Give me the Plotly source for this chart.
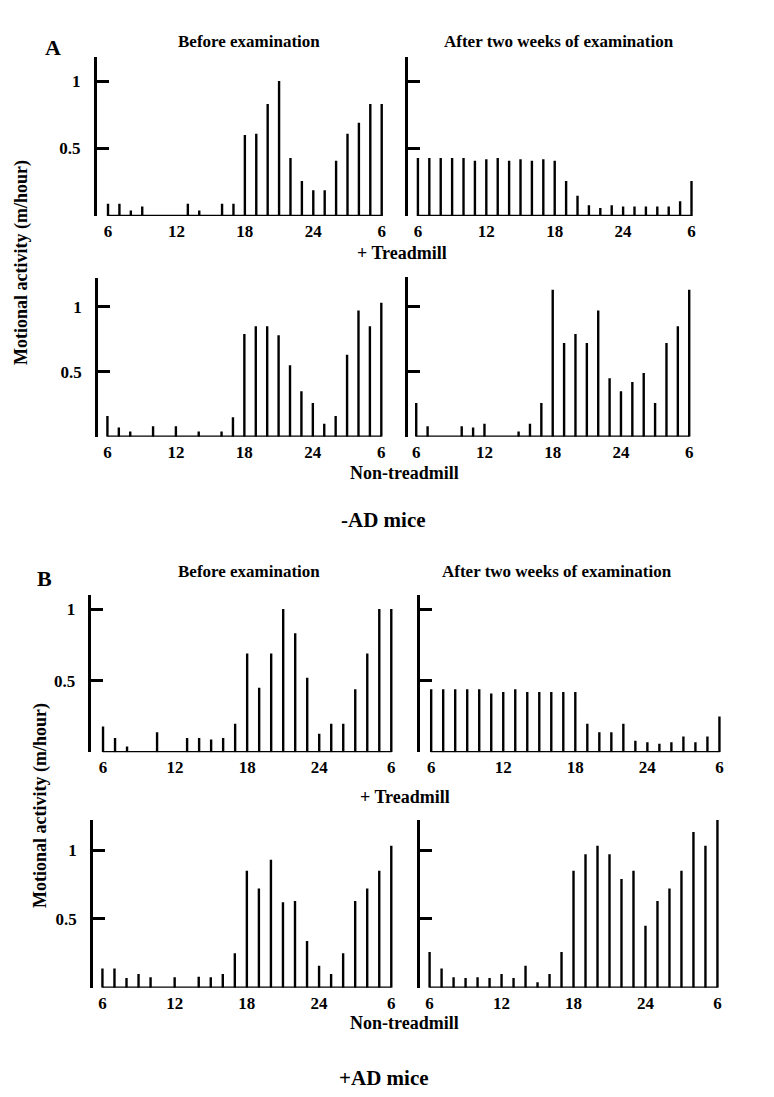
import plotly.graph_objects as go

W, H = 774, 1097
FONT = "Liberation Serif, Times New Roman, serif"

# ---------------- data ----------------
tick_hours = [6, 12, 18, 24, 30]
tick_labels = ["6", "12", "18", "24", "6"]
ytick_vals = [0.5, 1]
ytick_labels = ["0.5", "1"]

# Panel A (-AD mice), + Treadmill, before examination
a_tm_before_hours = [6, 7, 8, 9, 13, 14, 16, 17, 18, 19, 20, 21, 22, 23, 24, 25, 26, 27, 28, 29, 30]
a_tm_before_vals = [0.09, 0.09, 0.04, 0.07, 0.09, 0.04, 0.09, 0.09, 0.60, 0.61, 0.83, 1.00, 0.43, 0.26,
                    0.19, 0.19, 0.41, 0.61, 0.69, 0.83, 0.83]
# Panel A, + Treadmill, after two weeks
a_tm_after_hours = list(range(6, 31))
a_tm_after_vals = [0.43, 0.43, 0.43, 0.43, 0.43, 0.41, 0.42, 0.43, 0.41, 0.42, 0.41, 0.42, 0.41, 0.26,
                   0.15, 0.08, 0.06, 0.08, 0.07, 0.07, 0.07, 0.07, 0.07, 0.11, 0.26]
# Panel A, Non-treadmill, before
a_non_before_hours = [6, 7, 8, 10, 12, 14, 16, 17, 18, 19, 20, 21, 22, 23, 24, 25, 26, 27, 28, 29, 30]
a_non_before_vals = [0.16, 0.07, 0.04, 0.08, 0.08, 0.04, 0.04, 0.15, 0.79, 0.85, 0.85, 0.78, 0.55, 0.35,
                     0.26, 0.10, 0.16, 0.63, 0.97, 0.85, 1.03]
# Panel A, Non-treadmill, after
a_non_after_hours = [6, 7, 10, 11, 12, 15, 16, 17, 18, 19, 20, 21, 22, 23, 24, 25, 26, 27, 28, 29, 30]
a_non_after_vals = [0.26, 0.08, 0.08, 0.07, 0.10, 0.04, 0.10, 0.26, 1.13, 0.72, 0.79, 0.72, 0.97, 0.45,
                    0.35, 0.42, 0.49, 0.26, 0.72, 0.85, 1.13]

# Panel B (+AD mice), + Treadmill, before
b_tm_before_hours = [6, 7, 8, 10.5, 13, 14, 15, 16, 17, 18, 19, 20, 21, 22, 23, 24, 25, 26, 27, 28, 29, 30]
b_tm_before_vals = [0.18, 0.10, 0.04, 0.14, 0.10, 0.10, 0.09, 0.10, 0.20, 0.69, 0.45, 0.69, 1.00, 0.83,
                    0.52, 0.13, 0.20, 0.20, 0.44, 0.69, 1.00, 1.00]
# Panel B, + Treadmill, after
b_tm_after_hours = list(range(6, 31))
b_tm_after_vals = [0.44, 0.44, 0.44, 0.44, 0.44, 0.41, 0.42, 0.44, 0.42, 0.42, 0.42, 0.42, 0.42, 0.20,
                   0.14, 0.14, 0.20, 0.08, 0.07, 0.06, 0.07, 0.11, 0.07, 0.11, 0.25]
# Panel B, Non-treadmill, before
b_non_before_hours = [6, 7, 8, 9, 10, 12, 14, 15, 16, 17, 18, 19, 20, 21, 22, 23, 24, 25, 26, 27, 28, 29, 30]
b_non_before_vals = [0.14, 0.14, 0.07, 0.10, 0.075, 0.075, 0.08, 0.075, 0.10, 0.25, 0.85, 0.72, 0.93,
                     0.62, 0.63, 0.34, 0.16, 0.10, 0.25, 0.63, 0.72, 0.85, 1.03]
# Panel B, Non-treadmill, after
b_non_after_hours = list(range(6, 31))
b_non_after_vals = [0.26, 0.14, 0.075, 0.07, 0.075, 0.07, 0.10, 0.07, 0.16, 0.04, 0.10, 0.26, 0.85, 0.97,
                    1.03, 0.97, 0.79, 0.85, 0.45, 0.63, 0.72, 0.85, 1.13, 1.03, 1.22]

# ---------------- layout geometry (pixels) ----------------
# (y-axis line x, px of hour 6, px of hour 30, top px, baseline px, px of value 1, show y labels)
panels = [
    (a_tm_before_hours, a_tm_before_vals, (97, 108.3, 382.7, 57, 216, 81, True)),
    (a_tm_after_hours, a_tm_after_vals, (409.3, 419, 693.3, 57, 216, 81, False)),
    (a_non_before_hours, a_non_before_vals, (98.3, 107.7, 382.3, 278, 436.7, 306.7, True)),
    (a_non_after_hours, a_non_after_vals, (409, 417.3, 691, 277, 436.7, 306.7, False)),
    (b_tm_before_hours, b_tm_before_vals, (91.7, 103.3, 392.3, 595, 752.3, 609, True)),
    (b_tm_after_hours, b_tm_after_vals, (421, 432.3, 721.3, 595, 752.3, 609, False)),
    (b_non_before_hours, b_non_before_vals, (93.3, 102.7, 392.3, 820, 987.7, 850, True)),
    (b_non_after_hours, b_non_after_vals, (421, 430.7, 719.3, 820, 987.7, 850, False)),
]

fig = go.Figure()
layout = {}
for i, (hrs, vals, geo) in enumerate(panels, start=1):
    left, x6, x30, top, base, y1, show_y = geo
    pph = (x30 - x6) / (tick_hours[-1] - tick_hours[0])
    unit = base - y1
    xa = "x" if i == 1 else f"x{i}"
    ya = "y" if i == 1 else f"y{i}"
    fig.add_trace(go.Bar(x=hrs, y=vals, width=2.4 / pph, marker=dict(color="black", line=dict(width=0)),
                         xaxis=xa, yaxis=ya, showlegend=False, cliponaxis=False))
    fig.add_trace(go.Scatter(x=[tick_hours[0], tick_hours[-1]], y=[0, 0], mode="lines",
                             line=dict(color="black", width=2.6), xaxis=xa, yaxis=ya,
                             showlegend=False, cliponaxis=False))
    xkey = "xaxis" if i == 1 else f"xaxis{i}"
    ykey = "yaxis" if i == 1 else f"yaxis{i}"
    layout[xkey] = dict(
        domain=[left / W, (x30 + 2) / W],
        range=[tick_hours[0] - (x6 - left) / pph, tick_hours[-1] + 2 / pph],
        anchor=ya, showline=False, showgrid=False, zeroline=False, ticks="",
        tickvals=tick_hours, ticktext=tick_labels, ticklabelstandoff=3,
        tickfont=dict(family=FONT, size=17, color="black", weight="bold"),
    )
    layout[ykey] = dict(
        domain=[1 - base / H, 1 - top / H],
        range=[0, (base - top) / unit],
        anchor=xa, showline=True, linecolor="black", linewidth=2.6, showgrid=False, zeroline=False,
        ticks="inside", ticklen=12, tickwidth=2.6, tickcolor="black",
        tickvals=ytick_vals, ticktext=ytick_labels, ticklabelstandoff=10, showticklabels=show_y,
        tickfont=dict(family=FONT, size=17, color="black", weight="bold"),
    )


def ann(text, x, y, size=17, angle=0):
    return dict(text=text, x=x / W, y=1 - y / H, xref="paper", yref="paper", showarrow=False,
                textangle=angle, xanchor="center", yanchor="middle",
                font=dict(family=FONT, size=size, color="black", weight="bold"))


annotations = [
    ann("A", 53, 47, 22),
    ann("Before examination", 250, 42, 17),
    ann("After two weeks of examination", 560, 42, 17),
    ann("+ Treadmill", 403, 253, 18),
    ann("Non-treadmill", 406, 473, 18),
    ann("-AD mice", 384, 520, 21),
    ann("Motional activity (m/hour)", 22, 262, 18, -90),
    ann("B", 45, 578, 22),
    ann("Before examination", 250, 571, 17),
    ann("After two weeks of examination", 558, 571, 17),
    ann("+ Treadmill", 406, 797, 18),
    ann("Non-treadmill", 406, 1023, 18),
    ann("+AD mice", 385, 1078, 21),
    ann("Motional activity (m/hour)", 40, 805, 18, -90),
]

fig.update_layout(width=W, height=H, margin=dict(l=0, r=0, t=0, b=0),
                  paper_bgcolor="white", plot_bgcolor="white", annotations=annotations,
                  barmode="overlay", **layout)

fig.write_html("out.html", config={"displayModeBar": False},
               post_script="document.body.style.margin='0';")
